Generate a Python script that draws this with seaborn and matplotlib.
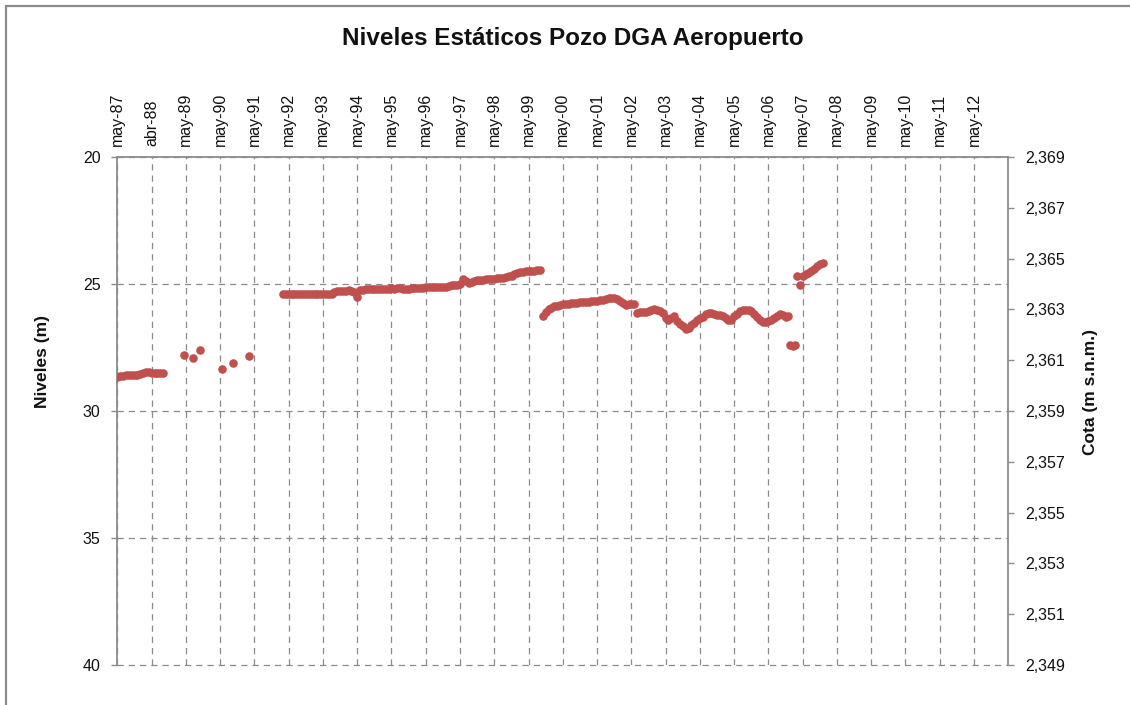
import numpy as np
import pandas as pd
import matplotlib
matplotlib.use("Agg")
import matplotlib.pyplot as plt
import matplotlib.dates as mdates
from matplotlib.ticker import FuncFormatter
from matplotlib.lines import Line2D
import seaborn as sns

# ---------------------------------------------------------------------------
# Niveles estáticos (m bajo superficie), mediciones mensuales por tramo
# ---------------------------------------------------------------------------
inicio_tramo_1 = "1987-05-01"
niveles_tramo_1 = [28.65, 28.63, 28.62, 28.60, 28.60, 28.58, 28.60, 28.57, 28.55,
                   28.52, 28.48, 28.45, 28.50, 28.52, 28.50, 28.52, 28.52]

# Mediciones aisladas 1989-1991
fechas_aisladas = ["1989-04-15", "1989-07-13", "1989-09-29",
                   "1990-05-26", "1990-09-20", "1991-03-08"]
niveles_aislados = [27.80, 27.93, 27.60, 28.35, 28.10, 27.85]

inicio_tramo_2 = "1992-03-01"
niveles_tramo_2 = [
    # 1992 (mar-dic)
    25.40, 25.40, 25.41, 25.40, 25.40, 25.40, 25.41, 25.40, 25.40, 25.40,
    # 1993
    25.40, 25.40, 25.40, 25.40, 25.40, 25.40, 25.40, 25.38, 25.30, 25.27, 25.26, 25.26,
    # 1994
    25.26, 25.25, 25.27, 25.30, 25.52, 25.25, 25.22, 25.20, 25.20, 25.20, 25.19, 25.20,
    # 1995
    25.19, 25.18, 25.20, 25.18, 25.17, 25.18, 25.16, 25.17, 25.18, 25.20, 25.18, 25.16,
    # 1996
    25.15, 25.15, 25.14, 25.15, 25.13, 25.12, 25.13, 25.12, 25.11, 25.12, 25.10, 25.10,
    # 1997
    25.08, 25.05, 25.04, 25.03, 25.00, 24.80, 24.90, 24.95, 24.92, 24.88, 24.85, 24.84,
    # 1998
    24.83, 24.82, 24.82, 24.80, 24.80, 24.78, 24.76, 24.75, 24.73, 24.70, 24.68, 24.62,
    # 1999 (ene-sep)
    24.55, 24.53, 24.52, 24.50, 24.50, 24.48, 24.47, 24.46, 24.45,
]

inicio_tramo_3 = "1999-10-01"
niveles_tramo_3 = [
    # 1999 (oct-dic)
    26.26, 26.10, 26.00,
    # 2000
    25.95, 25.88, 25.85, 25.82, 25.79, 25.78, 25.77, 25.76, 25.74, 25.73, 25.72, 25.71,
    # 2001
    25.70, 25.69, 25.68, 25.67, 25.66, 25.64, 25.62, 25.60, 25.57, 25.56, 25.57, 25.59,
    # 2002
    25.65, 25.75, 25.83, 25.80, 25.79, 25.77, 26.13, 26.12, 26.10, 26.09, 26.07, 26.04,
    # 2003
    26.00, 26.02, 26.07, 26.15, 26.35, 26.40, 26.33, 26.27, 26.45, 26.58, 26.67, 26.76,
    # 2004
    26.72, 26.60, 26.52, 26.43, 26.35, 26.28, 26.20, 26.13, 26.16, 26.19, 26.22, 26.24,
    # 2005
    26.26, 26.34, 26.43, 26.42, 26.25, 26.17, 26.07, 26.02, 26.03, 26.04, 26.05, 26.18,
    # 2006
    26.30, 26.42, 26.48, 26.48, 26.47, 26.40, 26.32, 26.25, 26.18, 26.24, 26.29, 26.27,
]

# Descenso puntual a fines de 2006 / inicios de 2007
fechas_descenso = ["2006-12-20", "2007-01-15", "2007-02-10"]
niveles_descenso = [27.42, 27.45, 27.42]

inicio_tramo_4 = "2007-03-01"
niveles_tramo_4 = [24.70, 25.04, 24.68, 24.60, 24.55, 24.50, 24.40, 24.30, 24.22, 24.19]

# Etiquetas del eje de fechas
etiquetas_fecha = ["may-87", "abr-88", "may-89", "may-90", "may-91", "may-92",
                   "may-93", "may-94", "may-95", "may-96", "may-97", "may-98",
                   "may-99", "may-00", "may-01", "may-02", "may-03", "may-04",
                   "may-05", "may-06", "may-07", "may-08", "may-09", "may-10",
                   "may-11", "may-12"]

# Relación nivel -> cota del terreno
cota_boca = 2389

# ---------------------------------------------------------------------------
frames = []
for inicio, valores in [(inicio_tramo_1, niveles_tramo_1),
                        (inicio_tramo_2, niveles_tramo_2),
                        (inicio_tramo_3, niveles_tramo_3),
                        (inicio_tramo_4, niveles_tramo_4)]:
    frames.append(pd.DataFrame({
        "fecha": pd.date_range(inicio, periods=len(valores), freq="MS"),
        "nivel": valores,
    }))
for fechas, valores in [(fechas_aisladas, niveles_aislados),
                        (fechas_descenso, niveles_descenso)]:
    frames.append(pd.DataFrame({"fecha": pd.to_datetime(fechas), "nivel": valores}))
df = pd.concat(frames, ignore_index=True)

sns.set_theme(style="white")
plt.rcParams["font.family"] = ["Liberation Sans", "DejaVu Sans"]

ROJO = "#C0504D"
GRIS_EJE = "#8C8C8C"
GRIS_GRILLA = "#8A8A8A"
TEXTO = "#111111"

W, H = 1130, 705
fig = plt.figure(figsize=(W / 100, H / 100), dpi=100)
fig.patch.set_facecolor("white")

x0, x1 = 117.3, 1008.3
y_top, y_bot = 157, 665
ax = fig.add_axes([x0 / W, 1 - y_bot / H, (x1 - x0) / W, (y_bot - y_top) / H])

sns.scatterplot(data=df, x="fecha", y="nivel", ax=ax, color=ROJO, s=38,
                linewidth=0, legend=False, zorder=3)

fecha_min = pd.Timestamp("1987-05-01")
ax.set_xlim(fecha_min, pd.Timestamp("2013-05-01"))
ax.set_ylim(40, 20)

ticks_fecha = [fecha_min + pd.Timedelta(days=365.25 * k) for k in range(len(etiquetas_fecha))]
ax.set_xticks(mdates.date2num(ticks_fecha))
ax.set_xticklabels(etiquetas_fecha, rotation=90)
ax.xaxis.tick_top()
ax.set_xlabel("")
ax.set_ylabel("")
ax.tick_params(axis="x", length=0, pad=8, labelsize=11.5, labelcolor=TEXTO)

ax.set_yticks([20, 25, 30, 35, 40])
ax.tick_params(axis="y", direction="out", length=4, width=1, color=GRIS_EJE,
               pad=8, labelsize=11.5, labelcolor=TEXTO, left=True)

ax.grid(True, axis="both", linestyle=(0, (5, 4)), color=GRIS_GRILLA, linewidth=0.9)
ax.set_axisbelow(True)
for linea in ax.get_ygridlines():
    linea.set_clip_on(False)

for lado in ["bottom", "right"]:
    ax.spines[lado].set_visible(False)
for lado in ["left", "top"]:
    ax.spines[lado].set_visible(True)
    ax.spines[lado].set_color(GRIS_EJE)
    ax.spines[lado].set_linewidth(1.3)

# Eje secundario: cota (m s.n.m.)
ax2 = ax.twinx()
ax2.set_ylim(cota_boca - 40, cota_boca - 20)
ax2.set_yticks(np.arange(cota_boca - 40, cota_boca - 20 + 1, 2))
ax2.yaxis.set_major_formatter(FuncFormatter(lambda v, _: f"{v:,.0f}"))
ax2.tick_params(axis="y", direction="out", length=4, width=1, color=GRIS_EJE,
                pad=8, labelsize=11.5, labelcolor=TEXTO, right=True)
ax2.grid(False)
for lado in ["left", "top", "bottom"]:
    ax2.spines[lado].set_visible(False)
ax2.spines["right"].set_visible(True)
ax2.spines["right"].set_color(GRIS_EJE)
ax2.spines["right"].set_linewidth(1.3)

# Títulos
fig.text(573 / W, 1 - 38 / H, "Niveles Estáticos Pozo DGA Aeropuerto",
         ha="center", va="center", fontsize=17.5, fontweight="bold", color=TEXTO)
fig.text(43 / W, 1 - 362 / H, "Niveles (m)", rotation=90, ha="center", va="center",
         fontsize=12.5, fontweight="bold", color=TEXTO)
fig.text(1090 / W, 1 - 392 / H, "Cota (m s.n.m.)", rotation=90, ha="center", va="center",
         fontsize=12.5, fontweight="bold", color=TEXTO)

# Marco del área del gráfico
fig.add_artist(Line2D([5.5 / W, 5.5 / W], [1 - 5.5 / H, -0.02], transform=fig.transFigure,
                      color=GRIS_EJE, linewidth=1.6))
fig.add_artist(Line2D([5.5 / W, 1.02], [1 - 5.5 / H, 1 - 5.5 / H], transform=fig.transFigure,
                      color=GRIS_EJE, linewidth=1.6))

fig.savefig("out.png", dpi=100)
